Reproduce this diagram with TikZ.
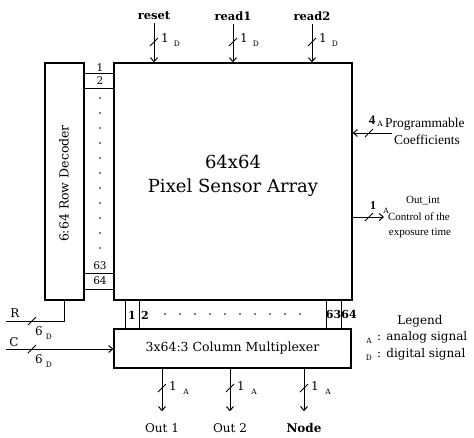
\documentclass[tikz,border=0pt]{standalone}
\usepackage{fontspec}
\setmainfont{DejaVu Serif}
\newfontfamily\timesfont{Liberation Serif}
\usetikzlibrary{arrows.meta}

\tikzset{
  blk/.style={draw, line width=1.3pt, inner sep=0pt},
  wire/.style={line width=1pt},
  sig/.style={wire, -{Straight Barb[length=4pt,width=7pt]}},
  lbl/.style={font=\fontsize{11.5}{13}\selectfont\bfseries, inner sep=0pt},
  txt/.style={font=\fontsize{12}{14}\selectfont, inner sep=0pt},
  num/.style={font=\fontsize{10.5}{12}\selectfont, inner sep=0pt},
  sub/.style={font=\fontsize{7.5}{9}\selectfont, inner sep=0pt},
  rtxt/.style={font=\timesfont\fontsize{13.5}{15}\selectfont, inner sep=0pt},
  otxt/.style={font=\timesfont\fontsize{11}{13}\selectfont, inner sep=0pt}
}
\newcommand\busmark[1]{\draw[wire] ([shift={(-4,4)}]#1) -- ([shift={(4,-4)}]#1);}

\begin{document}
\begin{tikzpicture}[x=1pt,y=-1pt]
  \useasboundingbox (0,0) rectangle (474,437);
  % main blocks
  \node[blk, minimum width=238pt, minimum height=237pt] (array) at (233,181.5) {};
  \node[font=\fontsize{18}{24}\selectfont, align=center] (title) at (233,176) {64x64\\Pixel Sensor Array};
  \node[blk, minimum width=39pt, minimum height=237pt] (dec) at (64.5,181.5) {};
  \node[rotate=90, font=\fontsize{12.5}{14}\selectfont] (dectxt) at (64,183.5) {6:64 Row Decoder};
  \node[blk, minimum width=237pt, minimum height=39pt, font=\fontsize{12.5}{14}\selectfont] (mux) at (232.5,348.5) {3x64:3 Column Multiplexer};

  % row lines
  \foreach \y in {73,88,273,289}
    \draw[wire] (84,\y) -- (114,\y);
  \node[num] at (100,68) {1};
  \node[num] at (100,81) {2};
  \node[num] at (100,266) {63};
  \node[num] at (100,281) {64};
  \foreach \y in {98,113,...,248}
    \fill (100,\y) circle (0.8);

  % column lines
  \foreach \x in {125,139,326,341}
    \draw[wire] (\x,300) -- (\x,329);
  \node[num, font=\fontsize{11}{12}\selectfont\bfseries] at (132,315) {1};
  \node[num, font=\fontsize{11}{12}\selectfont\bfseries] at (145,315) {2};
  \node[num, font=\fontsize{11}{12}\selectfont\bfseries] at (333.5,314) {63};
  \node[num, font=\fontsize{11}{12}\selectfont\bfseries] at (349,314) {64};
  \foreach \x in {165,180,...,300}
    \fill (\x,314) circle (0.8);

  % top inputs
  \foreach \x/\n/\t in {154/rst/reset,233/rdA/read1,312/rdB/read2} {
    \node[lbl] (\n) at (\x,16) {\t};
    \draw[sig] ([yshift=-3pt]\n.south) -- (\n.south |- array.north);
    \busmark{\x,42}
    \node[txt] at (\x+11,38) {1};
    \node[sub] at (\x+23,44) {D};
  }

  % row select
  \coordinate (rend) at (6,321);
  \draw[wire] (dec.south) |- (rend);
  \node[txt] at (15,313) {R};
  \busmark{32,321}
  \node[txt] at (39,331) {6};
  \node[sub] at (49,337) {D};

  % column select
  \coordinate (cstart) at (6,349);
  \draw[sig] (cstart) -- (cstart -| mux.west);
  \node[txt] at (14,342) {C};
  \busmark{32,349}
  \node[txt] at (39,359) {6};
  \node[sub] at (49,365) {D};

  % outputs
  \foreach \x/\n/\t in {162/outA/Out 1,230/outB/Out 2,304/outC/{\bfseries Node}} {
    \node[txt] (\n) at (\x,428) {\t};
    \draw[sig] (mux.south -| \n) -- ([yshift=12pt]\n.north);
    \busmark{\x,388}
    \node[txt] at (\x+11,386) {1};
    \node[sub] at (\x+24,392) {A};
  }

  % coefficients
  \coordinate (coef) at (392,133);
  \draw[sig] (coef) -- (coef -| array.east);
  \busmark{369,133}
  \node[txt, font=\timesfont\fontsize{13}{14}\selectfont\bfseries] at (372,120) {4};
  \node[sub] at (380,124) {A};
  \node[rtxt, anchor=west] at (385,124) {Programmable};
  \node[rtxt] at (427,140) {Coefficients};

  % integration output
  \coordinate (oint) at (384,217);
  \draw[sig] (oint -| array.east) -- (oint);
  \busmark{369,217}
  \node[txt, font=\timesfont\fontsize{12}{14}\selectfont\bfseries] at (373,206) {1};
  \node[sub] at (386,211) {A};
  \node[otxt] at (423,201) {Out\_int};
  \node[otxt] at (419,217) {Control of the};
  \node[otxt] at (420,233) {exposure time};

  % legend
  \node[txt] at (420,321) {Legend};
  \node[sub] at (369,341) {A};
  \node[txt, anchor=west] at (377,337) {: analog signal};
  \node[sub] at (369,358) {D};
  \node[txt, anchor=west] at (377,354) {: digital signal};
\end{tikzpicture}
\end{document}
